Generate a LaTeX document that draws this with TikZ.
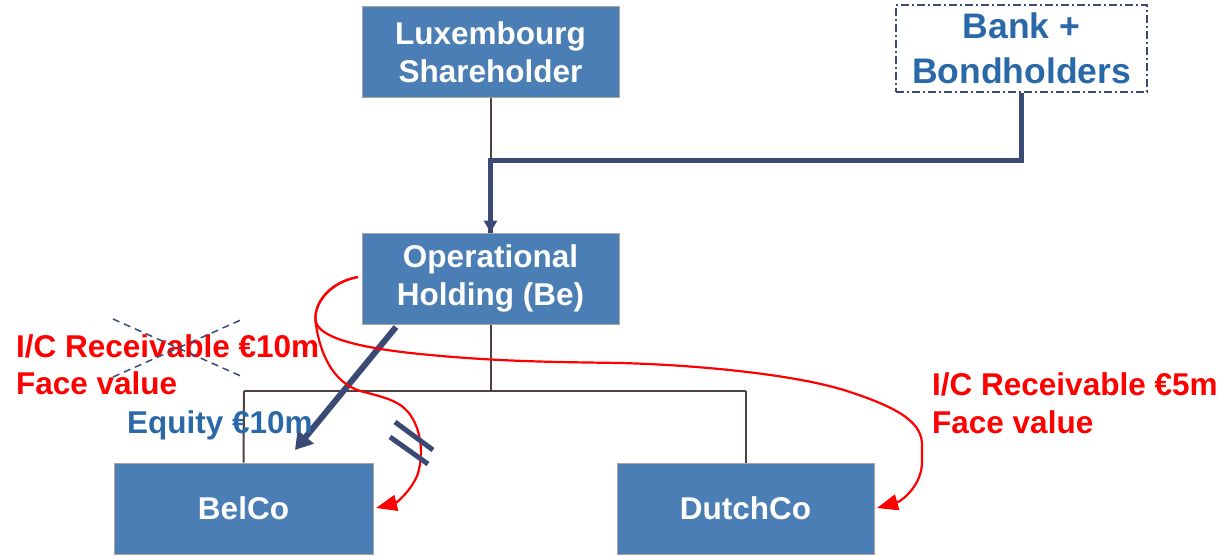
\documentclass[tikz,border=0pt]{standalone}
\usepackage{fontspec}
\setmainfont{Liberation Sans}
\usetikzlibrary{arrows.meta}
\definecolor{boxfill}{RGB}{74,126,180}
\definecolor{boxedge}{RGB}{170,165,160}
\definecolor{navy}{RGB}{59,74,116}
\definecolor{treeline}{RGB}{80,64,64}
\definecolor{bluetext}{RGB}{42,104,168}
\definecolor{redc}{RGB}{255,0,0}
\tikzset{
  entity/.style={draw=boxedge, line width=1pt, fill=boxfill, text=white,
    font=\fontsize{31.5}{38}\selectfont\bfseries, align=center, inner sep=0pt},
  lender/.style={draw=navy, line width=1.5pt, dash pattern=on 8pt off 3pt on 2pt off 3pt,
    text=bluetext, font=\fontsize{35.5}{45}\selectfont\bfseries, align=center, inner sep=0pt},
  tree/.style={draw=treeline, line width=2pt},
  thick navy/.style={draw=navy, line width=5pt},
  redlabel/.style={text=redc, font=\fontsize{31.5}{37}\selectfont\bfseries, anchor=base west, inner sep=0pt},
  flow/.style={draw=redc, line width=2.2pt, -{Triangle[length=21pt,width=16pt]}},
}
\begin{document}
\begin{tikzpicture}[x=1pt,y=-1pt]
\useasboundingbox (0,0) rectangle (1222,556);
% boxes
\node[entity, minimum width=257pt, minimum height=91pt] (lux) at (490.5,52) {Luxembourg\\Shareholder};
\node[lender, minimum width=251pt, minimum height=87pt] (bank) at (1021.5,48.5) {Bank +\\Bondholders};
\node[entity, minimum width=257pt, minimum height=91pt] (op) at (490.5,278.5) {Operational\\Holding (Be)};
\node[entity, minimum width=259pt, minimum height=91pt] (bel) at (243.5,508.5) {BelCo};
\node[entity, minimum width=257pt, minimum height=91pt] (dutch) at (745.5,508.5) {DutchCo};
% joins
\coordinate (j1) at (490.5,161);
\coordinate (jb) at (1021.5,161);
\coordinate (t0) at (490.5,391);
\coordinate (tl) at (244,391);
\coordinate (tr) at (745.5,391);
% shareholder and lenders to holding
\draw[tree] (lux.south) -- (j1);
\draw[thick navy, line join=miter] (bank.south) -- (jb) -- (j1) -- (op.north);
\draw[draw=navy, line width=5pt, -{Triangle[length=12pt,width=13pt]}] (j1) -- (op.north);
% tree to subsidiaries
\draw[tree] (op.south) -- (t0);
\draw[tree] (tl) -- (tr);
\draw[tree] (tl) -- (bel.north);
\draw[tree] (tr) -- (dutch.north);
% equity arrow
\coordinate (eqs) at (396,327);
\coordinate (eqe) at (295,450);
\draw[draw=navy, line width=6pt, -{Triangle[length=17pt,width=20pt]}] (eqs) -- (eqe);
% red flows
\coordinate (rs) at (358,277);
\coordinate (belin) at (376,508);
\coordinate (dutchin) at (877,508);
\draw[flow] (rs) .. controls (328,282) and (312,305) .. (316,325)
  .. controls (320,352) and (332,382) .. (360,391)
  .. controls (388,398) and (402,402) .. (411,416)
  .. controls (423,434) and (423,460) .. (417,476)
  .. controls (410,492) and (396,503) .. (belin);
\draw[flow] (rs) .. controls (330,282) and (312,305) .. (316,322)
  .. controls (320,338) and (360,348) .. (420,354)
  .. controls (500,362) and (560,362) .. (620,363)
  .. controls (700,365) and (800,375) .. (850,392)
  .. controls (905,410) and (922,425) .. (922,445)
  -- (922,462)
  .. controls (922,485) and (902,501) .. (dutchin);
% crossed-out label
\node[redlabel] (rec1) at (16,357) {I/C Receivable €10m};
\node[redlabel] (fv1) at (16,394) {Face value};
\coordinate (xa) at (113,319);
\coordinate (xb) at (243,377);
\coordinate (xc) at (113,377);
\coordinate (xd) at (243,319);
\draw[draw=navy, line width=1.5pt, dash pattern=on 7pt off 5pt] (xa) -- (xb);
\draw[draw=navy, line width=1.5pt, dash pattern=on 7pt off 5pt] (xc) -- (xd);
% equity label
\node[text=bluetext, font=\fontsize{31.5}{36}\selectfont\bfseries, anchor=base west, inner sep=0pt] (eq) at (127,433) {Equity €10m};
% break marks
\coordinate (m1a) at (395,422);
\coordinate (m1b) at (433,450);
\coordinate (m2a) at (390,437);
\coordinate (m2b) at (428,464);
\draw[draw=navy, line width=5pt] (m1a) -- (m1b);
\draw[draw=navy, line width=5pt] (m2a) -- (m2b);
% right label
\node[redlabel] (rec2) at (932,395) {I/C Receivable €5m};
\node[redlabel] (fv2) at (932,433) {Face value};
\end{tikzpicture}
\end{document}
